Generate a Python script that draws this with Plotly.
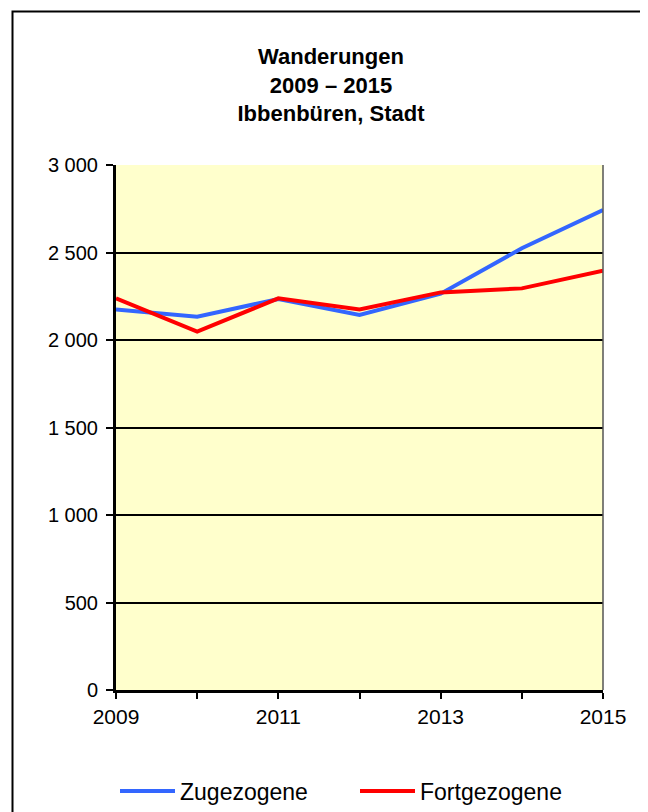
import plotly.graph_objects as go

years = [2009, 2010, 2011, 2012, 2013, 2014, 2015]
zugezogene = [2175, 2133, 2234, 2143, 2265, 2524, 2743]
fortgezogene = [2238, 2048, 2238, 2175, 2272, 2295, 2396]
x_tick_labels = ["2009", "", "2011", "", "2013", "", "2015"]
title_lines = ["Wanderungen", "2009 – 2015", "Ibbenbüren, Stadt"]

FONT = "Arial, Liberation Sans, sans-serif"

fig = go.Figure()
fig.add_trace(go.Scatter(x=years, y=zugezogene, mode="lines", name="Zugezogene",
                         line=dict(color="#3366FF", width=4)))
fig.add_trace(go.Scatter(x=years, y=fortgezogene, mode="lines", name="Fortgezogene",
                         line=dict(color="#FF0000", width=4)))

# page has an 8px body margin; work in page coordinates
OFF = 8
W, H = 648 - OFF, 812 - OFF
L, R, T, B = 116, 603, 165, 690  # plot area in page px
pw, ph = R - L, B - T


def px_x(p):
    return (p - L) / pw


def px_y(p):
    return (B - p) / ph


fig.update_layout(
    width=W, height=H,
    margin=dict(l=L - OFF, r=W - (R - OFF), t=T - OFF, b=H - (B - OFF), autoexpand=False),
    paper_bgcolor="white",
    plot_bgcolor="#FFFFCC",
    separators=", ",
    font=dict(family=FONT, color="black", size=21),
    title=dict(text="<br>".join(title_lines), x=(331 - OFF) / W, xanchor="center",
               y=1 - (64 - OFF) / H, yanchor="top",
               font=dict(family=FONT, size=22, color="black", weight="bold")),
    showlegend=True,
    legend=dict(orientation="h", x=px_x(115), xanchor="left", y=px_y(791), yanchor="middle",
                font=dict(family=FONT, size=23, color="black"),
                bgcolor="rgba(0,0,0,0)", itemwidth=55,
                entrywidth=170, entrywidthmode="pixels"),
    hovermode=False,
)

fig.update_xaxes(range=[2009, 2015], tickvals=years, ticktext=x_tick_labels,
                 ticks="outside", ticklen=6, tickwidth=2, tickcolor="black",
                 showline=True, linecolor="black", linewidth=3,
                 showgrid=False, zeroline=False,
                 tickfont=dict(family=FONT, size=21, color="black"))
fig.update_yaxes(range=[0, 3000], dtick=500, tickformat=",d",
                 ticks="outside", ticklen=7, tickwidth=2, tickcolor="black",
                 showline=True, linecolor="black", linewidth=3,
                 showgrid=True, gridcolor="black", gridwidth=2, zeroline=False,
                 ticklabelstandoff=4,
                 tickfont=dict(family=FONT, size=20, color="black"))

shapes = [
    # right edge of plot area
    dict(type="line", xref="paper", yref="paper", x0=1, x1=1, y0=0, y1=1,
         line=dict(color="#555555", width=1.5), layer="above"),
    # outer frame
    dict(type="rect", xref="paper", yref="paper",
         x0=px_x(12.5), x1=px_x(641.5), y0=px_y(830), y1=px_y(11.5),
         line=dict(color="black", width=2), layer="above"),
    # shadow on right
    dict(type="rect", xref="paper", yref="paper",
         x0=px_x(643), x1=px_x(652), y0=px_y(830), y1=px_y(17),
         line=dict(width=0), fillcolor="black", layer="above"),
]
fig.update_layout(shapes=shapes)

fig.write_html("out.html")
